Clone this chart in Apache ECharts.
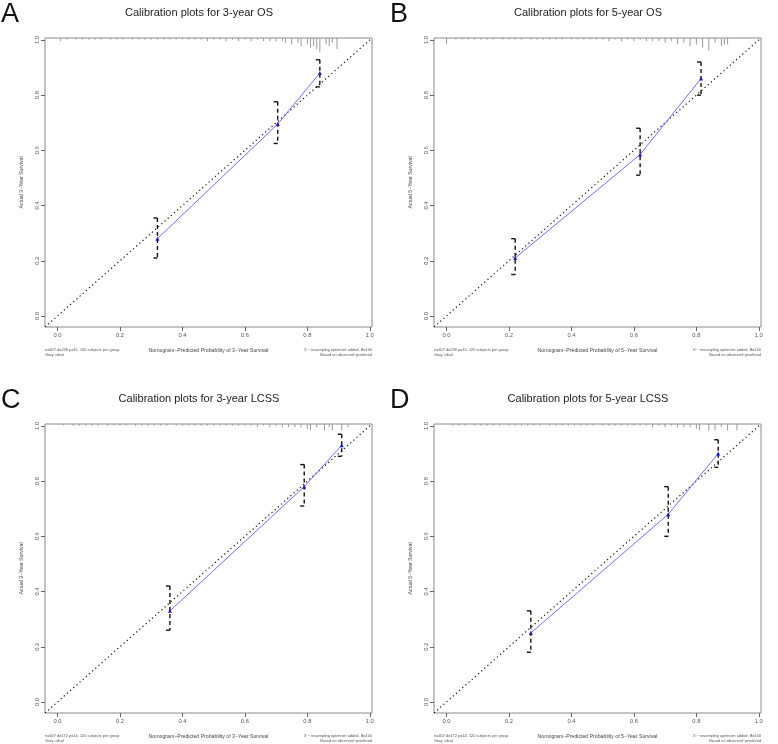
<!DOCTYPE html>
<html><head><meta charset="utf-8">
<script src="https://cdn.jsdelivr.net/npm/echarts@6/dist/echarts.min.js"></script>
<style>html,body{margin:0;padding:0;background:#fff}#c{width:778px;height:744px}</style>
</head><body><div id="c"></div>
<script>
// ---- data ----
const panelLetters = ['A', 'B', 'C', 'D'];
const titles = ['Calibration plots for 3-year OS', 'Calibration plots for 5-year OS', 'Calibration plots for 3-year LCSS', 'Calibration plots for 5-year LCSS'];
const xNames = ['Nomogram\u2212Predicted Probability of 3\u2212Year Survival', 'Nomogram\u2212Predicted Probability of 5\u2212Year Survival', 'Nomogram\u2212Predicted Probability of 3\u2212Year Survival', 'Nomogram\u2212Predicted Probability of 5\u2212Year Survival'];
const yNames = ['Actual 3\u2212Year Survival', 'Actual 5\u2212Year Survival', 'Actual 3\u2212Year Survival', 'Actual 5\u2212Year Survival'];
const notesLeft = ['n=407 d=238 p=15, 120 subjects per group\nGray: ideal', 'n=407 d=238 p=15, 120 subjects per group\nGray: ideal', 'n=407 d=172 p=14, 120 subjects per group\nGray: ideal', 'n=407 d=172 p=14, 120 subjects per group\nGray: ideal'];
const notesRight = 'X \u2212 resampling optimism added, B=100\nBased on observed\u2212predicted';
const tickValues = [0, 0.2, 0.4, 0.6, 0.8, 1.0];

const predA = [0.32, 0.705, 0.84], obsA = [0.28, 0.695, 0.88], loA = [0.21, 0.625, 0.83], hiA = [0.355, 0.776, 0.928];
const predB = [0.22, 0.62, 0.815], obsB = [0.21, 0.585, 0.86], loB = [0.15, 0.51, 0.80], hiB = [0.28, 0.68, 0.92];
const predC = [0.36, 0.79, 0.91], obsC = [0.33, 0.78, 0.93], loC = [0.26, 0.71, 0.89], hiC = [0.42, 0.86, 0.97];
const predD = [0.27, 0.71, 0.87], obsD = [0.25, 0.68, 0.90], loD = [0.18, 0.60, 0.85], hiD = [0.33, 0.78, 0.95];

// rug: predicted-probability positions and relative frequencies
const rugXA = [0.01,0.03,0.06,0.08,0.10,0.12,0.14,0.17,0.19,0.21,0.24,0.26,0.28,0.30,0.32,0.34,0.36,0.38,0.40,0.42,0.44,0.46,0.48,0.50,0.52,0.54,0.56,0.58,0.60,0.62,0.64,0.66,0.68,0.70,0.72,0.73,0.75,0.77,0.78,0.80,0.81,0.82,0.83,0.84,0.86,0.87,0.88,0.895];
const rugNA = [2,1,1,1,1,1,1,1,1,1,1,1,1,1,1,1,1,1,1,1,1,1,2,1,1,2,1,2,1,2,1,2,2,2,2,3,4,3,5,4,6,5,7,9,4,5,3,7];
const rugXB = [0.00,0.03,0.05,0.07,0.09,0.11,0.13,0.15,0.18,0.20,0.22,0.24,0.27,0.29,0.31,0.33,0.35,0.37,0.40,0.42,0.44,0.46,0.48,0.50,0.52,0.54,0.56,0.58,0.60,0.62,0.64,0.66,0.68,0.70,0.72,0.74,0.76,0.78,0.80,0.82,0.84,0.86,0.88,0.89,0.90];
const rugNB = [4,1,1,1,1,1,1,1,1,1,1,1,1,1,1,1,1,1,1,1,1,1,1,1,2,1,2,1,2,1,2,2,2,3,2,4,3,5,4,6,8,3,5,4,4];
const rugXC = [0.02,0.05,0.07,0.09,0.11,0.13,0.16,0.18,0.20,0.22,0.25,0.27,0.29,0.31,0.33,0.35,0.38,0.40,0.42,0.44,0.46,0.48,0.50,0.52,0.54,0.56,0.58,0.60,0.62,0.64,0.66,0.68,0.70,0.72,0.74,0.76,0.78,0.80,0.81,0.83,0.855,0.87,0.88,0.91,0.93];
const rugNC = [1,1,1,1,1,1,1,1,1,1,1,1,1,1,1,1,1,1,1,1,1,1,1,1,1,1,1,1,1,2,1,2,1,2,2,2,2,3,4,2,4,2,4,4,2];
const rugXD = [0.02,0.04,0.06,0.09,0.11,0.13,0.15,0.17,0.20,0.22,0.24,0.26,0.28,0.30,0.33,0.35,0.37,0.39,0.41,0.43,0.45,0.47,0.50,0.52,0.54,0.56,0.58,0.60,0.62,0.64,0.66,0.68,0.70,0.72,0.74,0.76,0.78,0.80,0.81,0.84,0.86,0.88,0.90,0.93];
const rugND = [1,1,1,1,1,1,1,1,1,1,1,1,1,1,1,1,1,1,1,1,1,1,1,1,1,1,1,1,1,1,2,1,2,1,2,2,2,3,4,4,4,2,4,4];

const preds = [predA, predB, predC, predD], obs = [obsA, obsB, obsC, obsD], los = [loA, loB, loC, loD], his = [hiA, hiB, hiC, hiD];
const rugXs = [rugXA, rugXB, rugXC, rugXD], rugNs = [rugNA, rugNB, rugNC, rugND];

// ---- layout ----
const AX_MIN = -0.04, AX_MAX = 1.007;
const offX = [0, 389, 0, 389], offY = [0, 0, 386, 386];
const GL = 45, GT = 38, GW = 327, GH = 289;

const chart = echarts.init(document.getElementById('c'), null, {renderer: 'canvas'});
const grid = [], xAxis = [], yAxis = [], series = [], graphic = [];
const FONT = 'Liberation Sans, Arial, sans-serif';

for (let i = 0; i < 4; i++) {
  const ox = offX[i], oy = offY[i];
  grid.push({left: ox + GL, top: oy + GT, width: GW, height: GH, show: true, borderColor: '#8a8a8a', borderWidth: 1, backgroundColor: 'transparent'});
  const axCommon = {
    type: 'value', gridIndex: i, min: AX_MIN, max: AX_MAX,
    splitLine: {show: false}, axisLine: {show: false, onZero: false},
    axisTick: {show: true, length: 4, lineStyle: {color: '#666', width: 1}, customValues: tickValues},
    nameTextStyle: {fontFamily: FONT, fontSize: 5.2, color: '#444'},
    nameLocation: 'middle'
  };
  xAxis.push(Object.assign({}, axCommon, {
    position: 'bottom', name: xNames[i], nameGap: 21,
    axisLabel: {customValues: tickValues, formatter: v => v.toFixed(1), fontFamily: FONT, fontSize: 5.8, color: '#555', margin: 5}
  }));
  yAxis.push(Object.assign({}, axCommon, {
    position: 'left', name: yNames[i], nameGap: 21,
    axisLabel: {customValues: tickValues, formatter: v => v.toFixed(1), fontFamily: FONT, fontSize: 5.8, color: '#555', margin: 5, rotate: 90}
  }));
  graphic.push({type: 'text', x: ox + 199, y: oy + 13, style: {text: titles[i], font: '11px ' + FONT, fill: '#222', textAlign: 'center', textVerticalAlign: 'middle'}});
  graphic.push({type: 'text', x: ox + 1, y: oy + 1, style: {text: panelLetters[i], font: '27px ' + FONT, fill: '#111'}});
  graphic.push({type: 'text', x: ox + GL, y: oy + 348, style: {text: notesLeft[i], font: '3.9px ' + FONT, fill: '#555', lineHeight: 4.4}});
  graphic.push({type: 'text', x: ox + GL + GW, y: oy + 348, style: {text: notesRight, font: '3.9px ' + FONT, fill: '#555', textAlign: 'right', lineHeight: 4.4}});

  // ideal diagonal
  series.push({type: 'line', xAxisIndex: i, yAxisIndex: i, data: [[AX_MIN, AX_MIN], [AX_MAX, AX_MAX]], showSymbol: false, silent: true,
    lineStyle: {color: '#111', width: 1.2, type: [1.2, 3]}, z: 2});
  // rug on top
  series.push({type: 'custom', xAxisIndex: i, yAxisIndex: i, silent: true, clip: false,
    data: rugXs[i].map((x, k) => [x, rugNs[i][k]]),
    renderItem: (params, api) => {
      const p = api.coord([api.value(0), AX_MAX]);
      const top = params.coordSys.y;
      return {type: 'line', shape: {x1: p[0], y1: top, x2: p[0], y2: top + 1.6 * api.value(1)}, style: {stroke: '#999', lineWidth: 1}};
    }, z: 3});
  // error bars
  series.push({type: 'custom', xAxisIndex: i, yAxisIndex: i, silent: true,
    data: preds[i].map((x, k) => [x, los[i][k], his[i][k]]),
    renderItem: (params, api) => {
      const pt = api.coord([api.value(0), api.value(2)]);
      const pb = api.coord([api.value(0), api.value(1)]);
      const st = {stroke: '#111', lineWidth: 1.4};
      return {type: 'group', children: [
        {type: 'line', shape: {x1: pt[0], y1: pt[1], x2: pb[0], y2: pb[1]}, style: Object.assign({lineDash: [4, 3]}, st)},
        {type: 'line', shape: {x1: pt[0] - 4, y1: pt[1], x2: pt[0], y2: pt[1]}, style: st},
        {type: 'line', shape: {x1: pb[0] - 4, y1: pb[1], x2: pb[0], y2: pb[1]}, style: st}
      ]};
    }, z: 4});
  // observed calibration line
  series.push({type: 'line', xAxisIndex: i, yAxisIndex: i, data: preds[i].map((x, k) => [x, obs[i][k]]),
    symbol: 'triangle', symbolSize: 4, showSymbol: true, silent: true,
    itemStyle: {color: '#1a1acc'}, lineStyle: {color: '#6f6fff', width: 1}, z: 5});
}

chart.setOption({animation: false, backgroundColor: '#fff', grid, xAxis, yAxis, series, graphic});
</script></body></html>
